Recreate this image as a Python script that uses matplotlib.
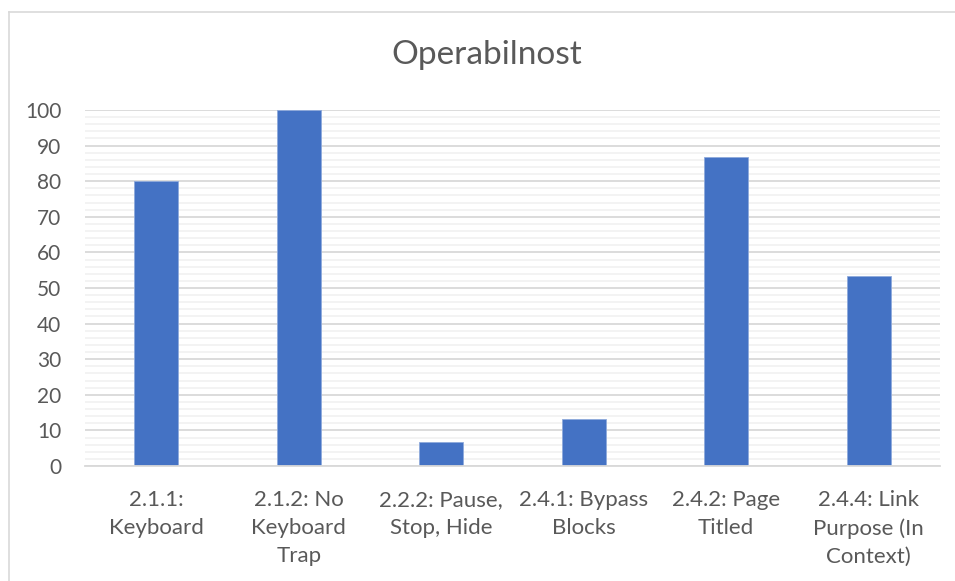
import matplotlib
matplotlib.use("Agg")
import matplotlib.pyplot as plt
from matplotlib.lines import Line2D
from matplotlib.ticker import MultipleLocator

categories = ["2.1.1:\nKeyboard", "2.1.2: No\nKeyboard\nTrap", "2.2.2: Pause,\nStop, Hide",
              "2.4.1: Bypass\nBlocks", "2.4.2: Page\nTitled", "2.4.4: Link\nPurpose (In\nContext)"]
values = [80, 100, 6.67, 13.33, 86.67, 53.33]
title = "Operabilnost"

plt.rcParams['font.family'] = ['Lato', 'DejaVu Sans']

W, H = 955, 581
fig = plt.figure(figsize=(W / 100, H / 100), dpi=100)
# chart-area border (top and left visible)
fig.lines.append(Line2D([8.5 / W, 1.0], [1 - 11.5 / H, 1 - 11.5 / H], transform=fig.transFigure,
                        color='#d9d9d9', linewidth=1.2))
fig.lines.append(Line2D([8.5 / W, 8.5 / W], [0, 1 - 11.5 / H], transform=fig.transFigure,
                        color='#d9d9d9', linewidth=1.2))

ax = fig.add_axes([85 / W, (H - 466) / H, (940 - 85) / W, (466 - 110) / H])

x = range(len(categories))
ax.bar(x, values, width=0.31, color='#4472c4', edgecolor='#8faadc', linewidth=0.6, zorder=3)
ax.set_xlim(-0.5, len(categories) - 0.5)
ax.set_ylim(0, 100)
ax.yaxis.set_major_locator(MultipleLocator(10))
ax.yaxis.set_minor_locator(MultipleLocator(2))
ax.grid(axis='y', which='major', color='#d9d9d9', linewidth=1.3, zorder=0)
ax.grid(axis='y', which='minor', color='#f2f2f2', linewidth=1.3, zorder=0)
for s in ['top', 'right', 'left']:
    ax.spines[s].set_visible(False)
ax.spines['bottom'].set_color('#d9d9d9')
ax.spines['bottom'].set_linewidth(1.3)
ax.spines['bottom'].set_zorder(4)
ax.set_xticks(list(x))
ax.set_xticklabels(categories, fontsize=16, color='#595959', linespacing=1.5)
ax.tick_params(axis='x', length=0, pad=17)
ax.tick_params(axis='y', which='both', length=0, labelsize=15, labelcolor='#595959', pad=17)

fig.text(487 / W, 1 - 55 / H, title, fontsize=24, color='#595959', ha='center', va='center')

fig.savefig("out.png", dpi=100, facecolor='white')
